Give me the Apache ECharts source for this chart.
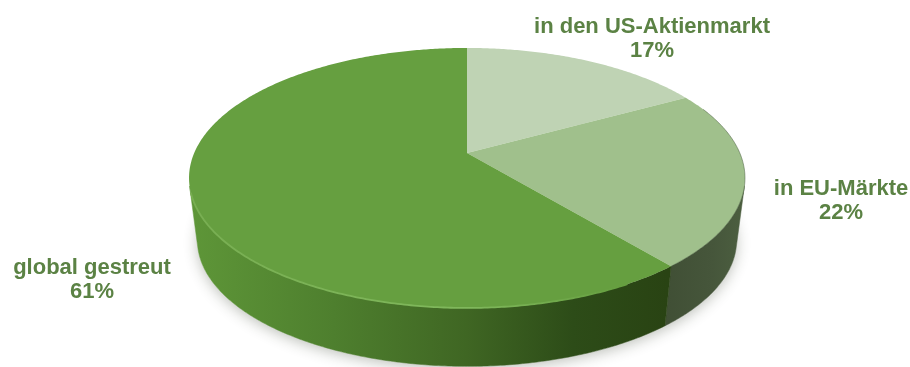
<!DOCTYPE html>
<html>
<head>
<meta charset="utf-8">
<style>html,body{margin:0;padding:0;background:#fff}#chart{width:910px;height:367px}</style>
<script src="https://cdn.jsdelivr.net/npm/echarts@6/dist/echarts.min.js"></script>
</head>
<body>
<div id="chart"></div>
<script>
// Anteile der Anlageregionen, im Uhrzeigersinn ab 12 Uhr
const categories = ['in den US-Aktienmarkt', 'in EU-Märkte', 'global gestreut'];
const shares = [17, 22, 61];

// Flächenfarben der Tortenstücke
const faceColors = ['#bfd3b4', '#a0c08c', '#669f40'];
// Beschriftungsmitten (x, y der ersten Zeile)
const labelCenters = [[652, 27], [841, 189], [92, 268]];

// Perspektivische Abbildung des Einheitskreises auf die Deckfläche
const cx = 467, cy = 153, spanX = 272.8, spanY = 125.2, tilt = 0.192;
// Bodenkreis: leicht verkleinert und nach unten versetzt
const baseScale = 0.97, baseDrop = 63;

function rim(angle) {
  const u = Math.sin(angle), v = -Math.cos(angle), w = 1 - tilt * v;
  return [cx + spanX * u / w, cy + spanY * v / w];
}
function baseRim(angle) {
  const p = rim(angle);
  return [cx + baseScale * (p[0] - cx), cy + baseDrop + baseScale * (p[1] - cy)];
}
function arc(fn, from, to) {
  const steps = Math.max(2, Math.ceil(Math.abs(to - from) / 0.01));
  const pts = [];
  for (let i = 0; i <= steps; i++) pts.push(fn(from + (to - from) * i / steps));
  return pts;
}
const total = shares.reduce((a, b) => a + b, 0);
function sliceAngles(index) {
  let before = 0;
  for (let i = 0; i < index; i++) before += shares[i];
  return [before / total * 2 * Math.PI, (before + shares[index]) / total * 2 * Math.PI];
}

// Sichtbarer Bereich der Mantelfläche: dort, wo die Kante nach unten abfällt
function wallFacesViewer(t) {
  const d = 0.001, a = rim(t - d), b = rim(t + d), p = rim(t), q = baseRim(t);
  return (b[0] - a[0]) * (q[1] - p[1]) - (b[1] - a[1]) * (q[0] - p[0]) < 0;
}
function visibleWallRange() {
  let from = null, to = null;
  for (let t = 0; t < 2 * Math.PI; t += 0.002) {
    if (wallFacesViewer(t)) {
      if (from === null) from = t;
      to = t;
    }
  }
  return [from, to];
}
const wallRange = visibleWallRange();

const LG = echarts.graphic.LinearGradient;
const wallFills = [
  '#4a5e3e',
  new LG(665, 0, 745, 0, [
    { offset: 0, color: '#404f35' },
    { offset: 0.6, color: '#46563b' },
    { offset: 1, color: '#4c5f40' }
  ], true),
  new LG(190, 0, 668, 0, [
    { offset: 0, color: '#5e9638' },
    { offset: 0.3, color: '#4e7f2e' },
    { offset: 0.58, color: '#3f6623' },
    { offset: 0.8, color: '#2d4c18' },
    { offset: 1, color: '#294313' }
  ], true)
];

function renderWall(params, api) {
  const i = params.dataIndex;
  api.value(0);
  const [s0, s1] = sliceAngles(i);
  const a0 = Math.max(s0, wallRange[0]), a1 = Math.min(s1, wallRange[1]);
  const children = [];
  if (i === 0) {
    // weicher Schlagschatten unter der Scheibe
    children.push({
      type: 'polygon',
      shape: { points: arc(baseRim, 0, 2 * Math.PI) },
      style: { fill: '#fff', shadowColor: 'rgba(40,50,30,0.3)', shadowBlur: 14, shadowOffsetX: 0, shadowOffsetY: 3 }
    });
  }
  if (a1 > a0) {
    children.push({
      type: 'polygon',
      shape: { points: arc(rim, a0, a1).concat(arc(baseRim, a1, a0)) },
      style: { fill: wallFills[i], stroke: wallFills[i], lineWidth: 0.5 }
    });
  }
  return { type: 'group', children };
}

function renderFace(params, api) {
  const i = params.dataIndex;
  const [a0, a1] = sliceAngles(i);
  const children = [{
    type: 'polygon',
    shape: { points: [[cx, cy]].concat(arc(rim, a0, a1)) },
    style: { fill: faceColors[i] }
  }];
  if (i === 2) {
    // heller Saum an der vorderen Kante
    children.push({
      type: 'polyline',
      shape: { points: arc(rim, wallRange[1] - 0.05, a0 + 0.18) },
      style: {
        fill: null, lineWidth: 1.8,
        stroke: new LG(190, 0, 620, 0, [
          { offset: 0, color: '#78ae52' },
          { offset: 0.65, color: '#80b85c' },
          { offset: 1, color: '#669f40' }
        ], true)
      }
    });
  }
  if (i === 1) {
    // dunkle Kante am rechten Rand
    children.push({
      type: 'polyline',
      shape: { points: arc(rim, a0 + 0.12, a1) },
      style: { fill: null, lineWidth: 1, stroke: 'rgba(70,90,60,0.5)' }
    });
  }
  const c = labelCenters[i];
  const font = 'bold 22px "Liberation Sans", Arial, sans-serif';
  children.push(
    { type: 'text', style: { text: categories[i], x: c[0], y: c[1], align: 'center', verticalAlign: 'middle', font, fill: '#5b8244' } },
    { type: 'text', style: { text: api.value(0) + '%', x: c[0], y: c[1] + 24, align: 'center', verticalAlign: 'middle', font, fill: '#5b8244' } }
  );
  return { type: 'group', children };
}

const chart = echarts.init(document.getElementById('chart'), null, { renderer: 'canvas' });
chart.setOption({
  backgroundColor: '#ffffff',
  animation: false,
  series: [
    { type: 'custom', coordinateSystem: 'none', z: 1, silent: true, data: shares, renderItem: renderWall },
    { type: 'custom', coordinateSystem: 'none', z: 2, silent: true, data: shares, renderItem: renderFace }
  ]
});
</script>
</body>
</html>
